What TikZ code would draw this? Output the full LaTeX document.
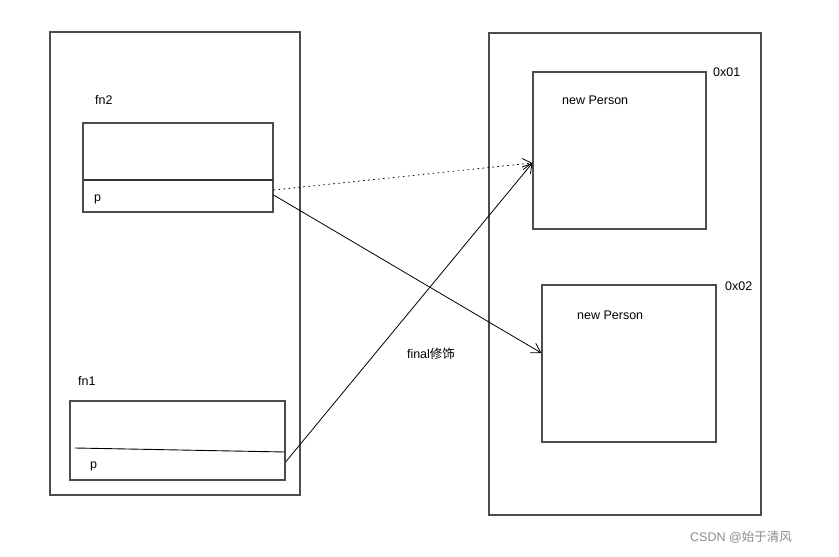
\documentclass[tikz,border=0pt]{standalone}
\usepackage{fontspec}
\setmainfont{Liberation Sans}
\newfontfamily\cjk{Noto Sans CJK SC}
\usetikzlibrary{arrows.meta}
\begin{document}
\begin{tikzpicture}[x=1pt,y=-1pt,
  frame/.style={draw=black!70,line width=1.2pt,inner sep=0pt},
  lbl/.style={font=\fontsize{12.5}{14}\selectfont,inner sep=0pt},
  conn/.style={draw=black,line width=0.8pt,-{Straight Barb[length=9pt,width=11pt]}}]
\useasboundingbox (0,0) rectangle (839,557);
\fill[white] (0,0) rectangle (839,557);
% left stack
\node[frame,minimum width=250pt,minimum height=463pt] (stack) at (175,263.5) {};
\node[frame,minimum width=190pt,minimum height=89pt] (fn2box) at (178,167.5) {};
\draw[black!80,line width=1.6pt] (84,180) -- (273,180);
\node[lbl,anchor=west] (fn2) at (95,100) {fn2};
\node[lbl,anchor=west] (p2) at (94,199) {p};
\node[frame,minimum width=215pt,minimum height=79pt] (fn1box) at (177.5,440.5) {};
\draw[black,line width=0.9pt] (75,448) -- (285,452);
\node[lbl,anchor=west] (fn1) at (78,381) {fn1};
\node[lbl,anchor=west] (p1) at (90,466) {p};
% right heap
\node[frame,minimum width=272pt,minimum height=482pt] (heap) at (625,274) {};
\node[frame,minimum width=173pt,minimum height=157pt] (obj1) at (619.5,150.5) {};
\node[lbl,anchor=west] (np1) at (562,100) {new Person};
\node[lbl,anchor=west] (a1) at (713,72) {0x01};
\node[frame,minimum width=174pt,minimum height=157pt] (obj2) at (629,363.5) {};
\node[lbl,anchor=west] (np2) at (577,315) {new Person};
\node[lbl,anchor=west] (a2) at (725,286) {0x02};
\node[lbl] (fin) at (431,354) {final{\cjk 修饰}};
% anchor points
\coordinate (fn2out) at (fn2box.east |- 0,190);
\coordinate (fn2out2) at (fn2box.east |- 0,195);
\coordinate (fn1out) at (fn1box.east |- 0,462);
\coordinate (obj1in) at (obj1.west |- 0,163);
\coordinate (obj2in) at (obj2.west |- 0,353);
% connectors
\draw[conn,dash pattern=on 1.5pt off 3.5pt] (fn2out) -- (obj1in);
\draw[conn] (fn2out2) -- (obj2in);
\draw[conn] (fn1out) -- (obj1in);
% watermark
\node[inner sep=0pt,text=black!45,font=\fontsize{12.5}{14}\selectfont] (wm) at (741,537) {CSDN @{\cjk 始于清风}};
\end{tikzpicture}
\end{document}
